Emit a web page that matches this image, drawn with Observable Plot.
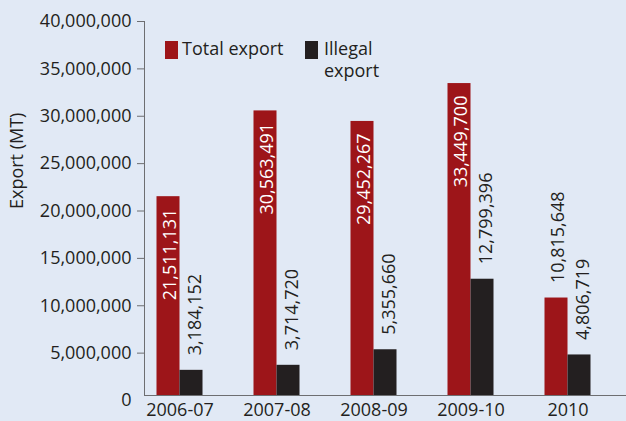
<!DOCTYPE html>
<html>
<head>
<meta charset="utf-8">
<script src="https://cdn.jsdelivr.net/npm/d3@7"></script>
<script src="https://cdn.jsdelivr.net/npm/@observablehq/plot@0.6"></script>
<style>
  html, body { margin: 0; padding: 0; background: #e1e9f5; }
  #wrap { position: relative; width: 626px; height: 421px; background: #e1e9f5; font-family: "Open Sans", sans-serif; color: #231f20; }
  #wrap svg { display: block; }
  .lg-sw { position: absolute; width: 13px; height: 18px; }
  .lg-tx { position: absolute; font-size: 18px; line-height: 22px; color: #231f20; }
</style>
</head>
<body>
<div id="wrap">
  <div class="lg-sw" style="left:165px;top:41px;background:#9d1519"></div>
  <div class="lg-tx" style="left:182px;top:37px">Total export</div>
  <div class="lg-sw" style="left:305px;top:41px;background:#231f20"></div>
  <div class="lg-tx" style="left:324px;top:37px">Illegal<br>export</div>
</div>
<script>
const years = ["2006-07", "2007-08", "2008-09", "2009-10", "2010"];
const totalExport = [21511131, 30563491, 29452267, 33449700, 10815648];
const illegalExport = [3184152, 3714720, 5355660, 12799396, 4806719];
const yTicks = [5000000, 10000000, 15000000, 20000000, 25000000, 30000000, 35000000, 40000000];
const yLabel = "Export (MT)";

const red = "#9d1519";
const dark = "#231f20";
const axisGrey = "#6d6e71";
const fmt = d3.format(",");

const data = years.map((year, i) => ({year, total: totalExport[i], illegal: illegalExport[i]}));
const inside = data.filter(d => d.total > 20000000);
const outside = data.filter(d => d.total <= 20000000);

const chart = Plot.plot({
  width: 626,
  height: 421,
  marginLeft: 144,
  marginRight: 0,
  marginTop: 21,
  marginBottom: 21,
  style: {background: "transparent", fontFamily: "Open Sans", fontSize: "18px", color: dark},
  x: {domain: years, range: [130.5, 615.5], padding: 0, label: null},
  y: {domain: [0, 40000000], label: null},
  marks: [
    Plot.barY(data, {x: "year", y: "total", fill: red, insetLeft: 25.5, insetRight: 48.5, insetBottom: 5}),
    Plot.barY(data, {x: "year", y: "illegal", fill: dark, insetLeft: 48.5, insetRight: 25.5, insetBottom: 5}),
    Plot.frame({anchor: "left", stroke: axisGrey, insetBottom: 5}),
    Plot.ruleY([0], {dy: -5, stroke: axisGrey}),
    Plot.axisY({ticks: yTicks, tickFormat: fmt, tickSize: 7, tickPadding: 6, stroke: axisGrey, fill: dark, label: null}),
    Plot.axisY({ticks: [0], tickFormat: fmt, tickSize: 0, tickPadding: 13, fill: dark, label: null}),
    Plot.axisX({tickSize: 0, tickPadding: 3, fill: dark, label: null}),
    Plot.text(inside, {x: "year", y: "total", text: d => fmt(d.total), rotate: -90, textAnchor: "end", dx: -9.5, dy: 12, fill: "white"}),
    Plot.text(outside, {x: "year", y: "total", text: d => fmt(d.total), rotate: -90, textAnchor: "start", dx: -9.5, dy: -15, fill: dark}),
    Plot.text(data, {x: "year", y: "illegal", text: d => fmt(d.illegal), rotate: -90, textAnchor: "start", dx: 15.5, dy: -15, fill: dark}),
    Plot.text([yLabel], {frameAnchor: "left", dx: -127, dy: -2, rotate: -90, fill: dark})
  ]
});
document.getElementById("wrap").prepend(chart);
</script>
</body>
</html>
